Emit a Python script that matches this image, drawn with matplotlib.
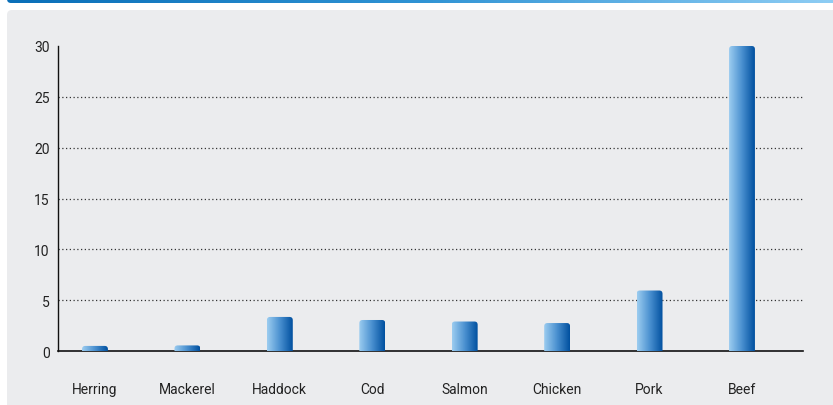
import numpy as np
import matplotlib.pyplot as plt
from matplotlib.patches import FancyBboxPatch
from matplotlib.colors import LinearSegmentedColormap

foods = ["Herring", "Mackerel", "Haddock", "Cod", "Salmon", "Chicken", "Pork", "Beef"]
values = [0.5, 0.55, 3.35, 3.05, 2.9, 2.75, 5.95, 30.0]
yticks = [0, 5, 10, 15, 20, 25, 30]

plt.rcParams['font.family'] = ['Roboto', 'DejaVu Sans']

fig = plt.figure(figsize=(8.33, 4.06), dpi=100)
fig.patch.set_facecolor("white")

# header strip and grey panel behind the chart
W, H = 833, 406
bg = fig.add_axes([0, 0, 1, 1], zorder=-1)
bg.set_xlim(0, W)
bg.set_ylim(H, 0)
bg.axis("off")
strip_cmap = LinearSegmentedColormap.from_list("strip", ["#0a6fb8", "#2f93d4", "#8ecdf4"])
strip_grad = np.linspace(0, 1, 256).reshape(1, -1)
strip = bg.imshow(strip_grad, cmap=strip_cmap, extent=(7, W, 4, -10), aspect="auto")
strip_clip = FancyBboxPatch((7, -10), W, 14, boxstyle="round,pad=0,rounding_size=4",
                            transform=bg.transData, facecolor="none", edgecolor="none")
bg.add_patch(strip_clip)
strip.set_clip_path(strip_clip)
bg.add_patch(FancyBboxPatch((7, 11), W, H, boxstyle="round,pad=0,rounding_size=5",
                            facecolor="#ebecee", edgecolor="none"))

ax = fig.add_axes([58 / W, 1 - 352 / H, (803 - 58) / W, (352 - 47) / H])
ax.set_facecolor("none")
x = np.arange(len(foods))

bar_w = 0.28
bar_cmap = LinearSegmentedColormap.from_list("bar", ["#9ccdf0", "#4a90d0", "#004f9f"])
grad = np.linspace(0, 1, 128).reshape(1, -1)
# px per data unit, used to keep the corner rounding circular
aspect = (92.4) / (305 / 30)
for xi, v in zip(x, values):
    left = xi - bar_w / 2
    im = ax.imshow(grad, cmap=bar_cmap, extent=(left, left + bar_w, -2, v),
                   aspect="auto", zorder=3, interpolation="bilinear")
    clip = FancyBboxPatch((left, -2), bar_w, v + 2,
                          boxstyle="round,pad=0,rounding_size=0.035",
                          mutation_aspect=aspect, transform=ax.transData,
                          facecolor="none", edgecolor="none")
    ax.add_patch(clip)
    im.set_clip_path(clip)
ax.set_xlim(-0.40, len(foods) - 1 + 0.66)
ax.set_ylim(0, 30)

for yv in yticks[1:-1]:
    ax.axhline(yv, color="#333333", lw=0.9, ls=(0, (1, 2)), zorder=1)

ax.set_yticks(yticks)
ax.set_yticklabels([str(t) for t in yticks], fontsize=10, color="#222222")
ax.set_xticks(x)
ax.set_xticklabels(foods, fontsize=10, color="#222222")
ax.tick_params(axis="y", length=0, pad=6)
ax.tick_params(axis="x", length=0, pad=22)

for side in ["top", "right"]:
    ax.spines[side].set_visible(False)
ax.spines["left"].set_color("#111111")
ax.spines["bottom"].set_color("#111111")
ax.spines["left"].set_linewidth(1.0)
ax.spines["bottom"].set_linewidth(1.2)

fig.savefig("out.png", dpi=100)
